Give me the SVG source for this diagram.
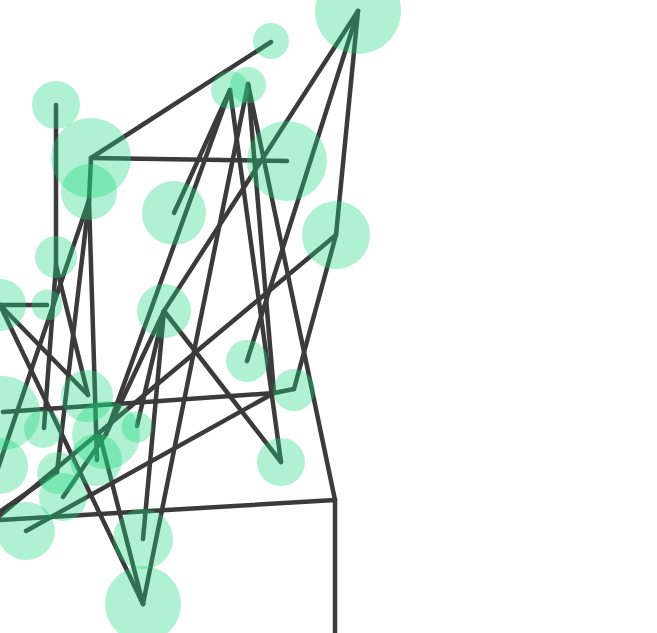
<svg xmlns="http://www.w3.org/2000/svg" width="657" height="633" viewBox="0 0 657 633">
<style>
.c{fill:#1ad67f;fill-opacity:0.35}
#connectors line{stroke:#3b3b3b;stroke-width:4.5;stroke-linecap:round}
</style>
<rect width="657" height="633" fill="#fff"/>
<g id="connectors">
<line x1="271" y1="42" x2="91" y2="158"/>
<line x1="91" y1="158" x2="287" y2="161"/>
<line x1="358" y1="11" x2="336" y2="235"/>
<line x1="358" y1="11" x2="164" y2="311"/>
<line x1="358" y1="11" x2="247" y2="361"/>
<line x1="230" y1="90" x2="174" y2="213"/>
<line x1="230" y1="90" x2="106" y2="434"/>
<line x1="230" y1="90" x2="281" y2="462"/>
<line x1="248" y1="84" x2="143" y2="604"/>
<line x1="248" y1="84" x2="274" y2="393"/>
<line x1="248" y1="84" x2="335" y2="500"/>
<line x1="335" y1="500" x2="335" y2="640"/>
<line x1="335" y1="500" x2="-2" y2="520"/>
<line x1="336" y1="235" x2="294" y2="389"/>
<line x1="294" y1="389" x2="274" y2="393"/>
<line x1="274" y1="393" x2="3" y2="412"/>
<line x1="274" y1="393" x2="26" y2="531"/>
<line x1="336" y1="235" x2="-3" y2="518"/>
<line x1="57" y1="472" x2="-2" y2="513"/>
<line x1="56" y1="105" x2="56" y2="265"/>
<line x1="56" y1="265" x2="44" y2="428"/>
<line x1="56" y1="265" x2="88" y2="395"/>
<line x1="0" y1="305" x2="47" y2="305"/>
<line x1="0" y1="305" x2="88" y2="395"/>
<line x1="0" y1="305" x2="143" y2="604"/>
<line x1="91" y1="158" x2="89" y2="200"/>
<line x1="89" y1="200" x2="-2" y2="468"/>
<line x1="89" y1="200" x2="57" y2="472"/>
<line x1="89" y1="200" x2="97" y2="460"/>
<line x1="164" y1="311" x2="281" y2="462"/>
<line x1="164" y1="311" x2="143" y2="539"/>
<line x1="164" y1="311" x2="137" y2="426"/>
<line x1="164" y1="311" x2="106" y2="434"/>
<line x1="63" y1="497" x2="106" y2="434"/>
<line x1="100" y1="436" x2="143" y2="604"/>
</g>
<g id="n1"><circle class="c" cx="358" cy="11" r="43"/></g>
<g id="n2"><circle class="c" cx="271" cy="41" r="18"/></g>
<g id="n3"><circle class="c" cx="230" cy="90" r="19"/></g>
<g id="n4"><circle class="c" cx="248" cy="85" r="18"/></g>
<g id="n5"><circle class="c" cx="56" cy="105" r="24"/></g>
<g id="n6"><circle class="c" cx="91" cy="158" r="40"/></g>
<g id="n7"><circle class="c" cx="287" cy="161" r="40"/></g>
<g id="n8"><circle class="c" cx="89" cy="192" r="28"/></g>
<g id="n9"><circle class="c" cx="174" cy="213" r="32"/></g>
<g id="n10"><circle class="c" cx="336" cy="235" r="34"/></g>
<g id="n11"><circle class="c" cx="56" cy="257" r="21"/></g>
<g id="n12"><circle class="c" cx="0" cy="305" r="26"/></g>
<g id="n13"><circle class="c" cx="47" cy="305" r="15.5"/></g>
<g id="n14"><circle class="c" cx="164" cy="311" r="27"/></g>
<g id="n15"><circle class="c" cx="247" cy="361" r="21"/></g>
<g id="n16"><circle class="c" cx="294" cy="390" r="21"/></g>
<g id="n17"><circle class="c" cx="87" cy="396" r="26"/></g>
<g id="n18"><circle class="c" cx="3" cy="413" r="37"/></g>
<g id="n19"><circle class="c" cx="43" cy="429" r="19"/></g>
<g id="n20"><circle class="c" cx="106" cy="435" r="34"/></g>
<g id="n21"><circle class="c" cx="137" cy="427" r="15.5"/></g>
<g id="n22"><circle class="c" cx="96" cy="460" r="26"/></g>
<g id="n23"><circle class="c" cx="0" cy="466" r="28"/></g>
<g id="n24"><circle class="c" cx="58" cy="473" r="21"/></g>
<g id="n25"><circle class="c" cx="281" cy="462" r="24"/></g>
<g id="n26"><circle class="c" cx="63" cy="497" r="24"/></g>
<g id="n27"><circle class="c" cx="26" cy="531" r="29"/></g>
<g id="n28"><circle class="c" cx="143" cy="539" r="30"/></g>
<g id="n29"><circle class="c" cx="143" cy="604" r="38"/></g>
</svg>
